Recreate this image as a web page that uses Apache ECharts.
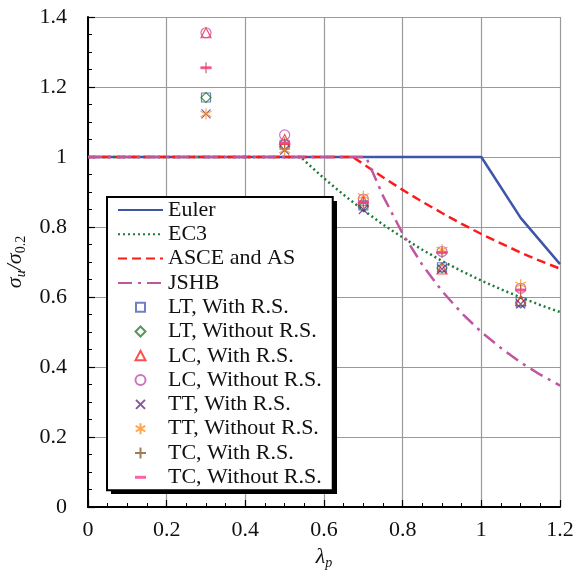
<!DOCTYPE html>
<html><head><meta charset="utf-8">
<script src="https://cdn.jsdelivr.net/npm/echarts@6/dist/echarts.min.js"></script>
<style>html,body{margin:0;padding:0;background:#fff}#c{width:583px;height:580px}</style>
</head><body><div id="c"></div>
<script>
// Design curves
var eulerX = [0, 1.0, 1.1, 1.2];
var eulerY = [1, 1, 0.826, 0.694];
var ec3X = [0, 0.541, 0.55, 0.6, 0.65, 0.7, 0.75, 0.8, 0.85, 0.9, 0.95, 1.0, 1.05, 1.1, 1.15, 1.2];
var ec3Y = [1, 1, 0.990, 0.939, 0.892, 0.848, 0.807, 0.770, 0.735, 0.703, 0.674, 0.647, 0.622, 0.599, 0.577, 0.557];
var asceX = [0, 0.673, 0.7, 0.75, 0.8, 0.85, 0.9, 0.95, 1.0, 1.05, 1.1, 1.15, 1.2];
var asceY = [1, 1, 0.980, 0.942, 0.906, 0.872, 0.840, 0.809, 0.780, 0.753, 0.727, 0.703, 0.681];
var jshbX = [0, 0.707, 0.75, 0.8, 0.85, 0.9, 0.95, 1.0, 1.05, 1.1, 1.15, 1.2];
var jshbY = [1, 1, 0.889, 0.781, 0.692, 0.617, 0.554, 0.500, 0.454, 0.413, 0.378, 0.347];
// Test points
var lambdaP = [0.3, 0.5, 0.7, 0.9, 1.1];
var ltWith = [1.17, 1.035, 0.862, 0.685, 0.585];
var ltWithout = [1.17, 1.030, 0.858, 0.683, 0.583];
var lcWith = [1.355, 1.050, 0.875, 0.680, 0.590];
var lcWithout = [1.355, 1.063, 0.880, 0.730, 0.625];
var ttWith = [1.123, 1.020, 0.850, 0.680, 0.580];
var ttWithout = [1.123, 1.020, 0.888, 0.735, 0.635];
var tcWith = [1.255, 1.040, 0.870, 0.727, 0.620];
var tcWithout = [1.255, 1.040, 0.870, 0.727, 0.620];
var seriesNames = ['Euler', 'EC3', 'ASCE and AS', 'JSHB', 'LT, With R.S.', 'LT, Without R.S.', 'LC, With R.S.', 'LC, Without R.S.',
  'TT, With R.S.', 'TT, Without R.S.', 'TC, With R.S.', 'TC, Without R.S.'];

function pairs(xs, ys) { return xs.map(function (x, i) { return [x, ys[i]]; }); }
var F = '"Liberation Serif", "Times New Roman", serif';

function lineSeries(name, xs, ys, color, type) {
  return { name: name, type: 'line', data: pairs(xs, ys), symbol: 'none', smooth: false,
    lineStyle: { color: color, width: 2.5, type: type }, itemStyle: { color: color }, z: 3 };
}
function scat(name, ys, symbol, color, size, filled) {
  return { name: name, type: 'scatter', data: pairs(lambdaP, ys), symbol: symbol, symbolSize: size,
    itemStyle: filled ? { color: color } : { color: 'rgba(0,0,0,0)', borderColor: color, borderWidth: 1.2 }, z: 4 };
}
var pX = 'path://M0,0L10,10M10,0L0,10';
var pAst = 'path://M5,0L5,10M0.67,2.5L9.33,7.5M0.67,7.5L9.33,2.5';
var pPlus = 'path://M5,0L5,10M0,5L10,5';
// legend icons: drawn in a 45x14 box, marker centred near x=22
var B = 'path://M0,0M45,14';
var legendIcons = {
  'LT, With R.S.': B + 'M18,2.5L27,2.5L27,11.5L18,11.5Z',
  'LT, Without R.S.': B + 'M22.5,2L27.5,7L22.5,12L17.5,7Z',
  'LC, With R.S.': B + 'M22.5,2L27.5,11.5L17.5,11.5Z',
  'LC, Without R.S.': B + 'M27.5,7A5,5,0,1,1,17.5,7A5,5,0,1,1,27.5,7Z',
  'TT, With R.S.': B + 'M18,2.5L27,11.5M27,2.5L18,11.5',
  'TT, Without R.S.': B + 'M22.5,1.5L22.5,12.5M17.7,4.2L27.3,9.8M17.7,9.8L27.3,4.2',
  'TC, With R.S.': B + 'M22.5,1.5L22.5,12.5M17,7L28,7',
  'TC, Without R.S.': B + 'M17,5.5L28,5.5L28,8.5L17,8.5Z'
};
var legendData = seriesNames.map(function (n, i) {
  if (i < 4) return { name: n, itemStyle: { opacity: 0 } };
  return { name: n, icon: legendIcons[n] };
});

var chart = echarts.init(document.getElementById('c'));
chart.setOption({
  animation: false,
  backgroundColor: '#fff',
  grid: { left: 88, right: 23, top: 17, bottom: 73, containLabel: false, outerBoundsMode: 'none' },
  xAxis: {
    type: 'value', min: 0, max: 1.2, interval: 0.2,
    axisLine: { show: true, onZero: false, lineStyle: { color: '#000', width: 2 } },
    axisTick: { show: true, inside: true, length: 7, lineStyle: { color: '#000', width: 1.2 } },
    minorTick: { show: true, splitNumber: 4, length: 4, lineStyle: { color: '#000', width: 1 } },
    splitLine: { show: true, lineStyle: { color: '#9a9a9a', width: 1.2 } },
    axisLabel: { color: '#111', fontFamily: F, fontSize: 22, margin: 12, formatter: function (v) { return String(+v.toFixed(1)); } },
    name: '{i|λ}{s|p}', nameLocation: 'middle', nameGap: 27,
    nameTextStyle: { rich: { i: { fontFamily: F, fontStyle: 'italic', fontSize: 22, color: '#111' },
      s: { fontFamily: F, fontStyle: 'italic', fontSize: 14, color: '#111', verticalAlign: 'bottom', padding: [12, 0, 0, 0] } } }
  },
  yAxis: {
    type: 'value', min: 0, max: 1.4, interval: 0.2,
    axisLine: { show: true, onZero: false, lineStyle: { color: '#000', width: 2 } },
    axisTick: { show: true, inside: true, length: 7, lineStyle: { color: '#000', width: 1.2 } },
    minorTick: { show: true, splitNumber: 4, length: 4, lineStyle: { color: '#000', width: 1 } },
    splitLine: { show: true, lineStyle: { color: '#9a9a9a', width: 1.2 } },
    axisLabel: { color: '#111', fontFamily: F, fontSize: 22, margin: 21, formatter: function (v) { return String(+v.toFixed(1)); } },
    name: '{i|σ}{s|u}{i|/σ}{t|0.2}', nameLocation: 'middle', nameGap: 57, nameRotate: 90,
    nameTextStyle: { rich: { i: { fontFamily: F, fontStyle: 'italic', fontSize: 22, color: '#111' },
      s: { fontFamily: F, fontStyle: 'italic', fontSize: 14, color: '#111', padding: [12, 0, 0, 0] },
      t: { fontFamily: F, fontSize: 14, color: '#111', padding: [12, 0, 0, 0] } } }
  },
  graphic: [{
    type: 'rect', z: 9, silent: true,
    shape: { x: 111, y: 201, width: 226, height: 293 },
    style: { fill: '#000' }
  }],
  legend: {
    orient: 'vertical', left: 107, top: 197, z: 10,
    padding: [1, 11, 1, 10], itemGap: 0.3, itemWidth: 45, itemHeight: 14,
    backgroundColor: '#fff', borderColor: '#000', borderWidth: 2, borderRadius: 0,
    textStyle: { fontFamily: F, fontSize: 22, color: '#111', lineHeight: 24 },
    data: legendData
  },
  series: [
    lineSeries('Euler', eulerX, eulerY, '#3f55a8', 'solid'),
    lineSeries('EC3', ec3X, ec3Y, '#1f7a3a', [2, 3]),
    lineSeries('ASCE and AS', asceX, asceY, '#ff1a1a', [9, 5]),
    lineSeries('JSHB', jshbX, jshbY, '#c0569f', [14, 6, 3, 6]),
    scat('LT, With R.S.', ltWith, 'rect', '#4a5fb8', 9, false),
    scat('LT, Without R.S.', ltWithout, 'diamond', '#2e7d32', 10, false),
    scat('LC, With R.S.', lcWith, 'triangle', '#ff2222', 10, false),
    scat('LC, Without R.S.', lcWithout, 'circle', '#c050b0', 10, false),
    scat('TT, With R.S.', ttWith, pX, '#6a2a8a', 9, false),
    scat('TT, Without R.S.', ttWithout, pAst, '#ff9020', 11, false),
    scat('TC, With R.S.', tcWith, pPlus, '#8b5a2b', 11, false),
    scat('TC, Without R.S.', tcWithout, 'rect', '#ff3b8d', [11, 3], true)
  ]
});
</script></body></html>
